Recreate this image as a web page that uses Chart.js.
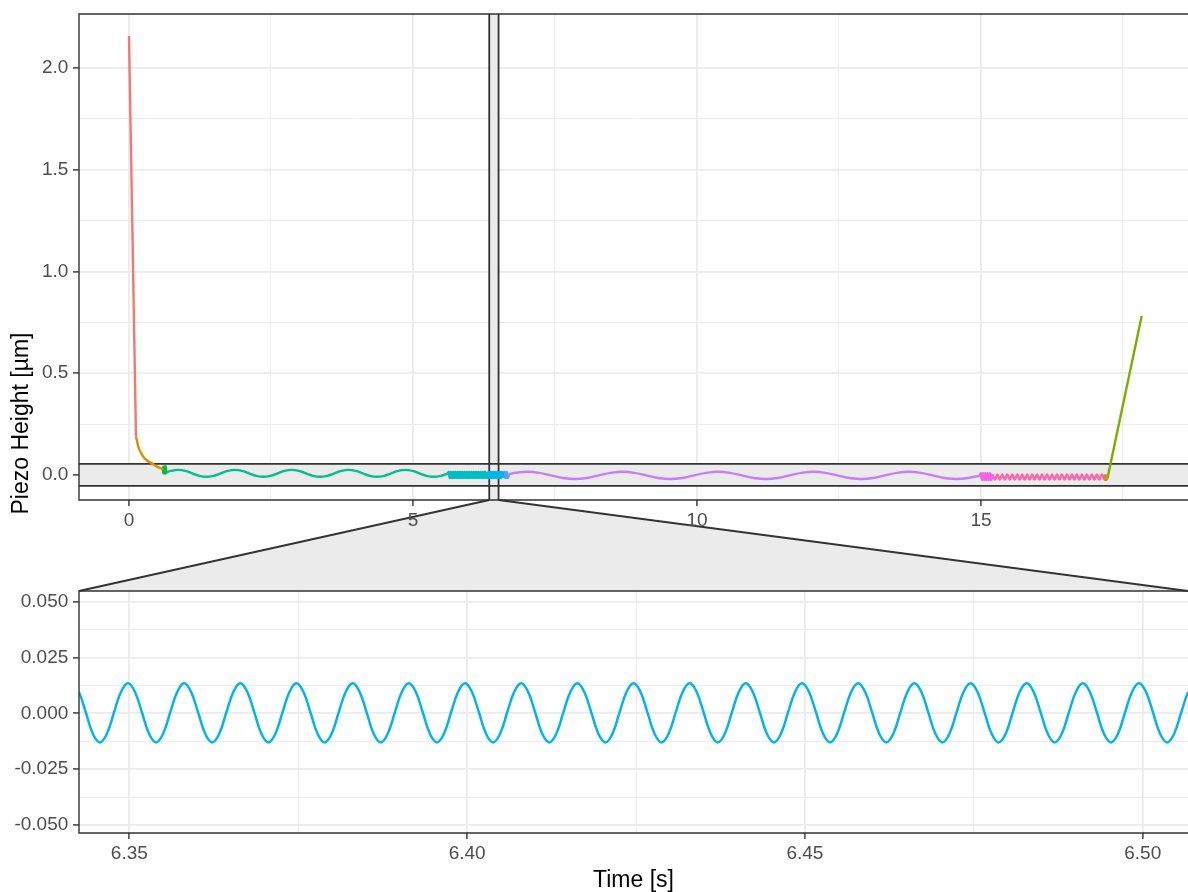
<!DOCTYPE html>
<html>
<head>
<meta charset="utf-8">
<script src="https://cdn.jsdelivr.net/npm/chart.js@4.4.1/dist/chart.umd.min.js"></script>
<style>
html,body{margin:0;padding:0;background:#fff;width:1188px;height:892px;overflow:hidden}
#top{position:absolute;left:0;top:0}
#zoom{position:absolute;left:0;top:580px}
</style>
</head>
<body>
<canvas id="top" width="1188" height="600"></canvas>
<canvas id="zoom" width="1188" height="312"></canvas>
<script>
// ---------------- axis ticks ----------------
const topXMajor = [0, 5, 10, 15];
const topXLabels = ['0', '5', '10', '15'];
const topXMinor = [2.5, 7.5, 12.5, 17.5];
const topYMajor = [0, 0.5, 1, 1.5, 2];
const topYLabels = ['0.0', '0.5', '1.0', '1.5', '2.0'];
const topYMinor = [0.25, 0.75, 1.25, 1.75];
const zoomXMajor = [6.35, 6.40, 6.45, 6.50];
const zoomXLabels = ['6.35', '6.40', '6.45', '6.50'];
const zoomXMinor = [6.375, 6.425, 6.475];
const zoomYMajor = [-0.05, -0.025, 0, 0.025, 0.05];
const zoomYLabels = ['-0.050', '-0.025', '0.000', '0.025', '0.050'];
const zoomYMinor = [-0.0375, -0.0125, 0.0125, 0.0375];

// ---------------- axis ranges ----------------
const topXRange = [-0.8803, 18.645];
const topYRange = [-0.1229, 2.2654];
const zoomXRange = [6.34255, 6.5067];
const zoomYRange = [-0.05358, 0.05479];

// ---------------- segment data (time s, height µm) ----------------
const seg1T = [0.0, 0.123];
const seg1Y = [2.157, 0.188];
const seg2T = [0.123, 0.14, 0.164, 0.194, 0.252, 0.317, 0.40, 0.50, 0.60];
const seg2Y = [0.188, 0.168, 0.139, 0.118, 0.090, 0.071, 0.057, 0.040, 0.028];
const seg3T = [0.60, 0.605, 0.61, 0.615, 0.62, 0.625, 0.63, 0.635, 0.64, 0.645, 0.65];
const seg3Y = [0.028, 0.039, 0.010, 0.039, 0.010, 0.039, 0.010, 0.039, 0.010, 0.039, 0.012];
const seg4T = [0.65, 0.74, 0.865, 0.99, 1.115, 1.24, 1.365, 1.49, 1.615, 1.74, 1.865, 1.99, 2.115, 2.24, 2.365, 2.49,
  2.615, 2.74, 2.865, 2.99, 3.115, 3.24, 3.365, 3.49, 3.615, 3.74, 3.865, 3.99, 4.115, 4.24, 4.365, 4.49,
  4.615, 4.74, 4.865, 4.99, 5.115, 5.24, 5.365, 5.49, 5.615];
const seg4Y = [0.012,
  0.020, 0.025, 0.020, 0.008, -0.004, -0.009, -0.004, 0.008,
  0.020, 0.025, 0.020, 0.008, -0.004, -0.009, -0.004, 0.008,
  0.020, 0.025, 0.020, 0.008, -0.004, -0.009, -0.004, 0.008,
  0.020, 0.025, 0.020, 0.008, -0.004, -0.009, -0.004, 0.008,
  0.020, 0.025, 0.020, 0.008, -0.004, -0.009, -0.004, 0.008];
const seg5T = [5.615, 5.63, 5.65, 5.67, 5.69, 5.71, 5.73, 5.75, 5.77, 5.79, 5.81, 5.83, 5.85, 5.87, 5.89, 5.91, 5.93,
  5.95, 5.97, 5.99, 6.01, 6.03, 6.05, 6.07, 6.09, 6.11, 6.13, 6.15, 6.17, 6.19, 6.21, 6.23, 6.25, 6.27, 6.29, 6.30];
const seg5Y = [0.008,
  0.0135, -0.013, 0.0135, -0.013, 0.0135, -0.013, 0.0135, -0.013, 0.0135, -0.013, 0.0135, -0.013,
  0.0135, -0.013, 0.0135, -0.013, 0.0135, -0.013, 0.0135, -0.013, 0.0135, -0.013, 0.0135, -0.013,
  0.0135, -0.013, 0.0135, -0.013, 0.0135, -0.013, 0.0135, -0.013, 0.0135, -0.013, 0.0135];
const seg6T = [6.30, 6.31, 6.33, 6.35, 6.37, 6.39, 6.41, 6.43, 6.45, 6.47, 6.49, 6.51, 6.53, 6.55, 6.57, 6.59];
const seg6Y = [0.0135, -0.013, 0.0135, -0.013, 0.0135, -0.013, 0.0135, -0.013, 0.0135, -0.013, 0.0135, -0.013,
  0.0135, -0.013, 0.0135, -0.013];
const seg7T = [6.59, 6.61, 6.63, 6.65, 6.67, 6.69];
const seg7Y = [-0.013, 0.0135, -0.013, 0.0135, -0.013, 0.0045];
const seg8T = [6.69, 6.80, 7.01, 7.22, 7.43, 7.64, 7.85, 8.06, 8.27, 8.48, 8.69, 8.90, 9.11, 9.32, 9.53, 9.74, 9.95,
  10.16, 10.37, 10.58, 10.79, 11.00, 11.21, 11.42, 11.63, 11.84, 12.05, 12.26, 12.47, 12.68, 12.89, 13.10, 13.31,
  13.52, 13.73, 13.94, 14.15, 14.36, 14.57, 14.78, 14.98];
const seg8Y = [0.0045,
  0.0107, 0.016, 0.0107, -0.002, -0.0147, -0.020, -0.0147, -0.002,
  0.0107, 0.016, 0.0107, -0.002, -0.0147, -0.020, -0.0147, -0.002,
  0.0107, 0.016, 0.0107, -0.002, -0.0147, -0.020, -0.0147, -0.002,
  0.0107, 0.016, 0.0107, -0.002, -0.0147, -0.020, -0.0147, -0.002,
  0.0107, 0.016, 0.0107, -0.002, -0.0147, -0.020, -0.0147,
  -0.003];
const seg9T = [14.98, 15.00, 15.02, 15.04, 15.06, 15.08, 15.10, 15.12, 15.14, 15.16, 15.18, 15.20];
const seg9Y = [-0.003, 0.007, -0.022, 0.007, -0.022, 0.007, -0.022, 0.007, -0.022, 0.007, -0.022, 0.003];
const seg10T = [15.200, 15.244, 15.288, 15.331, 15.375, 15.419, 15.463, 15.507, 15.550, 15.594, 15.638,
  15.682, 15.726, 15.769, 15.813, 15.857, 15.901, 15.945, 15.988, 16.032, 16.076,
  16.120, 16.164, 16.207, 16.251, 16.295, 16.339, 16.383, 16.426, 16.470, 16.514,
  16.558, 16.602, 16.645, 16.689, 16.733, 16.777, 16.821, 16.864, 16.908, 16.952,
  16.996, 17.040, 17.083, 17.127, 17.171];
const seg10Y = [0.003, -0.023, 0.003, -0.023, 0.003, -0.023, 0.003, -0.023, 0.003, -0.023, 0.003,
  -0.023, 0.003, -0.023, 0.003, -0.023, 0.003, -0.023, 0.003, -0.023, 0.003,
  -0.023, 0.003, -0.023, 0.003, -0.023, 0.003, -0.023, 0.003, -0.023, 0.003,
  -0.023, 0.003, -0.023, 0.003, -0.023, 0.003, -0.023, 0.003, -0.023, 0.003,
  -0.023, 0.003, -0.023, 0.003, -0.023];
const seg11T = [17.171, 17.18, 17.19, 17.20, 17.21, 17.22, 17.23];
const seg11Y = [-0.023, -0.004, -0.022, -0.004, -0.022, -0.004, -0.012];
const seg12T = [17.23, 17.83];
const seg12Y = [-0.012, 0.781];

const segColors = ['#F8766D', '#DE8C00', '#00BA38', '#00C08B', '#00BFC4', '#00B4F0',
  '#619CFF', '#C77CFF', '#F564E3', '#FF64B0', '#B79F00', '#7CAE00'];
const segTension = [0, 0.4, 0, 0.4, 0, 0, 0, 0.4, 0, 0.3, 0, 0];
const segWidth = [2.4, 2.4, 2.9, 2.4, 2.9, 2.9, 2.9, 2.4, 2.9, 2.4, 2.9, 2.4];

// ---------------- zoomed detail (6.342 - 6.507 s) ----------------
const zoomT = [
  6.34149, 6.34253, 6.34357, 6.34460, 6.34564, 6.34668, 6.34772, 6.34876,
  6.34980, 6.35084, 6.35188, 6.35292, 6.35396, 6.35500, 6.35604, 6.35708,
  6.35811, 6.35915, 6.36019, 6.36123, 6.36227, 6.36331, 6.36435, 6.36539,
  6.36643, 6.36747, 6.36851, 6.36955, 6.37059, 6.37162, 6.37266, 6.37370,
  6.37474, 6.37578, 6.37682, 6.37786, 6.37890, 6.37994, 6.38098, 6.38202,
  6.38306, 6.38410, 6.38513, 6.38617, 6.38721, 6.38825, 6.38929, 6.39033,
  6.39137, 6.39241, 6.39345, 6.39449, 6.39553, 6.39657, 6.39761, 6.39865,
  6.39968, 6.40072, 6.40176, 6.40280, 6.40384, 6.40488, 6.40592, 6.40696,
  6.40800, 6.40904, 6.41008, 6.41112, 6.41216, 6.41320, 6.41423, 6.41527,
  6.41631, 6.41735, 6.41839, 6.41943, 6.42047, 6.42151, 6.42255, 6.42359,
  6.42463, 6.42567, 6.42670, 6.42774, 6.42878, 6.42982, 6.43086, 6.43190,
  6.43294, 6.43398, 6.43502, 6.43606, 6.43710, 6.43814, 6.43918, 6.44021,
  6.44125, 6.44229, 6.44333, 6.44437, 6.44541, 6.44645, 6.44749, 6.44853,
  6.44957, 6.45061, 6.45165, 6.45269, 6.45373, 6.45476, 6.45580, 6.45684,
  6.45788, 6.45892, 6.45996, 6.46100, 6.46204, 6.46308, 6.46412, 6.46516,
  6.46620, 6.46724, 6.46827, 6.46931, 6.47035, 6.47139, 6.47243, 6.47347,
  6.47451, 6.47555, 6.47659, 6.47763, 6.47867, 6.47971, 6.48075, 6.48178,
  6.48282, 6.48386, 6.48490, 6.48594, 6.48698, 6.48802, 6.48906, 6.49010,
  6.49114, 6.49218, 6.49322, 6.49426, 6.49530, 6.49634, 6.49737, 6.49841,
  6.49945, 6.50049, 6.50153, 6.50257, 6.50361, 6.50465, 6.50569, 6.50673,
  6.50777, 6.50881, 6.50984, 6.51088];
const zoomY = [
  0.0135, 0.0096, 0.0003, -0.0091, -0.0130, -0.0091, 0.0003, 0.0096,
  0.0135, 0.0096, 0.0003, -0.0091, -0.0130, -0.0091, 0.0003, 0.0096,
  0.0135, 0.0096, 0.0003, -0.0091, -0.0130, -0.0091, 0.0003, 0.0096,
  0.0135, 0.0096, 0.0003, -0.0091, -0.0130, -0.0091, 0.0003, 0.0096,
  0.0135, 0.0096, 0.0003, -0.0091, -0.0130, -0.0091, 0.0003, 0.0096,
  0.0135, 0.0096, 0.0003, -0.0091, -0.0130, -0.0091, 0.0003, 0.0096,
  0.0135, 0.0096, 0.0003, -0.0091, -0.0130, -0.0091, 0.0003, 0.0096,
  0.0135, 0.0096, 0.0003, -0.0091, -0.0130, -0.0091, 0.0003, 0.0096,
  0.0135, 0.0096, 0.0003, -0.0091, -0.0130, -0.0091, 0.0003, 0.0096,
  0.0135, 0.0096, 0.0003, -0.0091, -0.0130, -0.0091, 0.0003, 0.0096,
  0.0135, 0.0096, 0.0003, -0.0091, -0.0130, -0.0091, 0.0003, 0.0096,
  0.0135, 0.0096, 0.0003, -0.0091, -0.0130, -0.0091, 0.0003, 0.0096,
  0.0135, 0.0096, 0.0003, -0.0091, -0.0130, -0.0091, 0.0003, 0.0096,
  0.0135, 0.0096, 0.0003, -0.0091, -0.0130, -0.0091, 0.0003, 0.0096,
  0.0135, 0.0096, 0.0003, -0.0091, -0.0130, -0.0091, 0.0003, 0.0096,
  0.0135, 0.0096, 0.0003, -0.0091, -0.0130, -0.0091, 0.0003, 0.0096,
  0.0135, 0.0096, 0.0003, -0.0091, -0.0130, -0.0091, 0.0003, 0.0096,
  0.0135, 0.0096, 0.0003, -0.0091, -0.0130, -0.0091, 0.0003, 0.0096,
  0.0135, 0.0096, 0.0003, -0.0091, -0.0130, -0.0091, 0.0003, 0.0096,
  0.0135, 0.0096, 0.0003, -0.0091, -0.0130, -0.0091, 0.0003, 0.0096,
  0.0135, 0.0096, 0.0003, -0.0091];
const zoomColor = '#00B4F0';

// ---------------- rendering ----------------
const FONT = "'Liberation Sans', Arial, Helvetica, sans-serif";
Chart.defaults.font.family = FONT;
Chart.defaults.animation = false;

const TICK_FONT = {family: FONT, size: 19};
const TICK_COLOR = '#4d4d4d';
const GRID_COLOR = '#ebebeb';
const DARK = '#333333';
const ZOOM_FILL = '#ebebeb';

function pts(t, y) { return t.map((v, i) => ({x: v, y: y[i]})); }
function lineSet(t, y, color, tension, width) {
  return {data: pts(t, y), borderColor: color, backgroundColor: color, borderWidth: width,
    pointRadius: 0, showLine: true, tension: tension, borderJoinStyle: 'round', clip: 0, fill: false};
}
function axis(range, majors, labels, minors, horizontal, fitSize) {
  const all = majors.concat(minors).sort((a, b) => a - b);
  const isMajor = c => c.tick && majors.includes(c.tick.value);
  return {
    type: 'linear', min: range[0], max: range[1],
    afterBuildTicks: s => { s.ticks = all.map(v => ({value: v})); },
    afterFit: s => {
      if (horizontal) { s.height = fitSize; s.paddingLeft = 0; s.paddingRight = 0; }
      else { s.width = fitSize; s.paddingTop = 0; s.paddingBottom = 0; }
    },
    ticks: {
      autoSkip: false, maxRotation: 0, minRotation: 0,
      color: TICK_COLOR, font: TICK_FONT, padding: horizontal ? 3 : 4.7,
      callback: v => { const i = majors.indexOf(v); return i >= 0 ? labels[i] : ''; }
    },
    grid: {
      color: GRID_COLOR,
      lineWidth: c => isMajor(c) ? 1.8 : 0.9,
      drawTicks: true, tickLength: 6,
      tickColor: c => isMajor(c) ? DARK : 'rgba(0,0,0,0)',
      tickWidth: 1.4
    },
    border: {display: false}
  };
}
function drawPanelBorder(chart) {
  const {ctx, chartArea: a} = chart;
  ctx.save();
  ctx.strokeStyle = DARK; ctx.lineWidth = 1.4;
  ctx.beginPath();
  ctx.moveTo(a.right + 4, a.top); ctx.lineTo(a.left, a.top); ctx.lineTo(a.left, a.bottom); ctx.lineTo(a.right + 4, a.bottom);
  ctx.stroke();
  ctx.restore();
}

// zoom panel
const zoomChart = new Chart(document.getElementById('zoom'), {
  type: 'scatter',
  data: {datasets: [lineSet(zoomT, zoomY, zoomColor, 0.4, 2.5)]},
  options: {
    responsive: false, devicePixelRatio: 1, animation: false, events: [],
    layout: {padding: {top: 11, left: 0, right: 0, bottom: 0}},
    plugins: {legend: {display: false}, tooltip: {enabled: false}},
    scales: {
      x: Object.assign(axis(zoomXRange, zoomXMajor, zoomXLabels, zoomXMinor, true, 59), {
        title: {display: true, text: 'Time [s]', color: '#000', font: {family: FONT, size: 23}, padding: {top: 0, bottom: -2}}
      }),
      y: axis(zoomYRange, zoomYMajor, zoomYLabels, zoomYMinor, false, 79)
    }
  },
  plugins: [{id: 'border2', afterDatasetsDraw: drawPanelBorder}]
});

const ZOOM_OFFSET = 580;
const indicator = {
  id: 'indicator',
  beforeDraw(chart) {
    const {ctx, chartArea: a, scales: {x}} = chart;
    const b = zoomChart.chartArea;
    const x1 = x.getPixelForValue(zoomXRange[0]), x2 = x.getPixelForValue(zoomXRange[1]);
    const yb = b.top + ZOOM_OFFSET;
    ctx.save();
    ctx.fillStyle = ZOOM_FILL;
    ctx.beginPath();
    ctx.moveTo(x1, a.bottom); ctx.lineTo(x2, a.bottom); ctx.lineTo(b.right, yb); ctx.lineTo(b.left, yb);
    ctx.closePath(); ctx.fill();
    ctx.strokeStyle = DARK; ctx.lineWidth = 1.8;
    ctx.beginPath();
    ctx.moveTo(x1, a.bottom); ctx.lineTo(b.left, yb);
    ctx.moveTo(x2, a.bottom); ctx.lineTo(b.right, yb);
    ctx.stroke();
    ctx.restore();
  },
  beforeDatasetsDraw(chart) {
    const {ctx, chartArea: a, scales: {x, y}} = chart;
    const x1 = x.getPixelForValue(zoomXRange[0]), x2 = x.getPixelForValue(zoomXRange[1]);
    const y1 = y.getPixelForValue(zoomYRange[1]), y2 = y.getPixelForValue(zoomYRange[0]);
    ctx.save();
    ctx.fillStyle = ZOOM_FILL;
    ctx.fillRect(a.left, y1, a.right - a.left, y2 - y1);
    ctx.fillRect(x1, a.top, x2 - x1, a.bottom - a.top);
    ctx.strokeStyle = DARK; ctx.lineWidth = 1.8;
    ctx.beginPath();
    ctx.moveTo(a.left, y1); ctx.lineTo(a.right, y1);
    ctx.moveTo(a.left, y2); ctx.lineTo(a.right, y2);
    ctx.moveTo(x1, a.top); ctx.lineTo(x1, a.bottom);
    ctx.moveTo(x2, a.top); ctx.lineTo(x2, a.bottom);
    ctx.stroke();
    ctx.restore();
  },
  afterDatasetsDraw: drawPanelBorder,
  afterDraw(chart) {
    const ctx = chart.ctx;
    ctx.save();
    ctx.translate(22, 423.5);
    ctx.rotate(-Math.PI / 2);
    ctx.fillStyle = '#000';
    ctx.font = '23px ' + FONT;
    ctx.textAlign = 'center';
    ctx.textBaseline = 'middle';
    ctx.fillText('Piezo Height [µm]', 0, 0);
    ctx.restore();
  }
};

const segs = [[seg1T, seg1Y], [seg2T, seg2Y], [seg3T, seg3Y], [seg4T, seg4Y], [seg5T, seg5Y], [seg6T, seg6Y],
  [seg7T, seg7Y], [seg8T, seg8Y], [seg9T, seg9Y], [seg10T, seg10Y], [seg11T, seg11Y], [seg12T, seg12Y]];

new Chart(document.getElementById('top'), {
  type: 'scatter',
  data: {datasets: segs.map((s, i) => lineSet(s[0], s[1], segColors[i], segTension[i], segWidth[i]))},
  options: {
    responsive: false, devicePixelRatio: 1, animation: false, events: [],
    layout: {padding: {top: 14, left: 0, right: 0, bottom: 0}},
    plugins: {legend: {display: false}, tooltip: {enabled: false}},
    scales: {
      x: axis(topXRange, topXMajor, topXLabels, topXMinor, true, 100),
      y: axis(topYRange, topYMajor, topYLabels, topYMinor, false, 79)
    }
  },
  plugins: [indicator]
});
</script>
</body>
</html>
